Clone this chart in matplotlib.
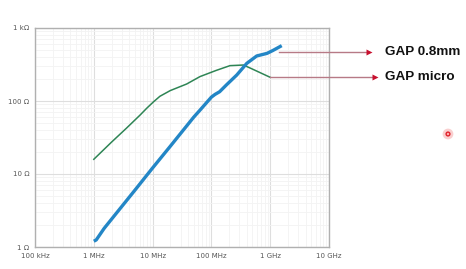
import matplotlib
matplotlib.use("Agg")
import matplotlib.pyplot as plt
import numpy as np
from matplotlib.ticker import LogLocator, NullFormatter

# Data
blue_freq = [1e6, 1.1e6, 1.5e6, 2e6, 3e6, 5e6, 10e6, 20e6, 50e6, 64e6, 100e6, 115e6,
             138e6, 180e6, 270e6, 400e6, 590e6, 880e6, 1.1e9, 1.57e9]
blue_z = [1.2, 1.25, 1.8, 2.4, 3.6, 6.0, 12.1, 24, 60, 75, 113, 123,
          134, 166, 227, 328, 414, 449, 490, 573]
green_freq = [1e6, 2e6, 3.6e6, 6.1e6, 8e6, 10.3e6, 13.3e6, 20e6, 38e6, 64e6, 120e6,
              207e6, 350e6, 460e6, 1e9]
green_z = [15.9, 27.3, 42.5, 64, 80, 97, 116, 139, 171, 216, 262, 305, 311, 282, 211]

x_ticks = [1e5, 1e6, 1e7, 1e8, 1e9, 1e10]
x_labels = ["100 kHz", "1 MHz", "10 MHz", "100 MHz", "1 GHz", "10 GHz"]
y_ticks = [1, 10, 100, 1000]
y_labels = ["1 Ω", "10 Ω", "100 Ω", "1 kΩ"]
labels = ["GAP 0.8mm", "GAP micro"]

W, H = 466, 269
fig = plt.figure(figsize=(W / 100, H / 100), dpi=100)
fig.patch.set_facecolor("white")

ax = fig.add_axes([35 / W, 1 - 247 / H, (329 - 35) / W, (247 - 28) / H])
ax.set_xscale("log")
ax.set_yscale("log")
ax.set_xlim(1e5, 1e10)
ax.set_ylim(1, 1000)

ax.plot(green_freq, green_z, color="#2e8555", lw=1.1, zorder=3)
ax.plot(blue_freq, blue_z, color="#2386c6", lw=2.4, zorder=4, solid_capstyle="butt")

ax.set_xticks(x_ticks)
ax.set_xticklabels(x_labels)
ax.set_yticks(y_ticks)
ax.set_yticklabels(y_labels)
ax.xaxis.set_minor_locator(LogLocator(base=10, subs=np.arange(2, 10)))
ax.yaxis.set_minor_locator(LogLocator(base=10, subs=np.arange(2, 10)))
ax.xaxis.set_minor_formatter(NullFormatter())
ax.yaxis.set_minor_formatter(NullFormatter())
ax.tick_params(which="both", length=0, labelsize=5, labelcolor="#555555", pad=4)
ax.grid(which="major", color="#dedede", lw=0.8)
ax.grid(which="minor", color="#f3f3f3", lw=0.6)
for s in ax.spines.values():
    s.set_color("#b0b0b0")
    s.set_linewidth(1.0)

# overlay in pixel coordinates for annotations
ov = fig.add_axes([0, 0, 1, 1], facecolor="none")
ov.set_xlim(0, W)
ov.set_ylim(H, 0)
ov.axis("off")

arrows = [(279, 372, 52.3), (270, 378, 76.5)]
for (x0, x1, y), lab in zip(arrows, labels):
    ov.plot([x0, x1 - 4], [y, y], color="#b77a86", lw=1.0)
    ov.plot([x1 - 3], [y], marker=">", color="#c8102e", markersize=4.5, mec="none")
    ov.text(385, y, lab, fontsize=9.7, fontweight="bold", family="Liberation Sans",
            va="center", ha="left", color="#111111")

# cursor marker
ov.scatter([448], [134], s=60, color="#f4a0a0", alpha=0.5, edgecolors="none")
ov.scatter([448], [134], s=14, color="#e0202a", edgecolors="none")
ov.scatter([448], [134], s=3, color="#ffb0b0", edgecolors="none")

fig.savefig("out.png", dpi=100)
